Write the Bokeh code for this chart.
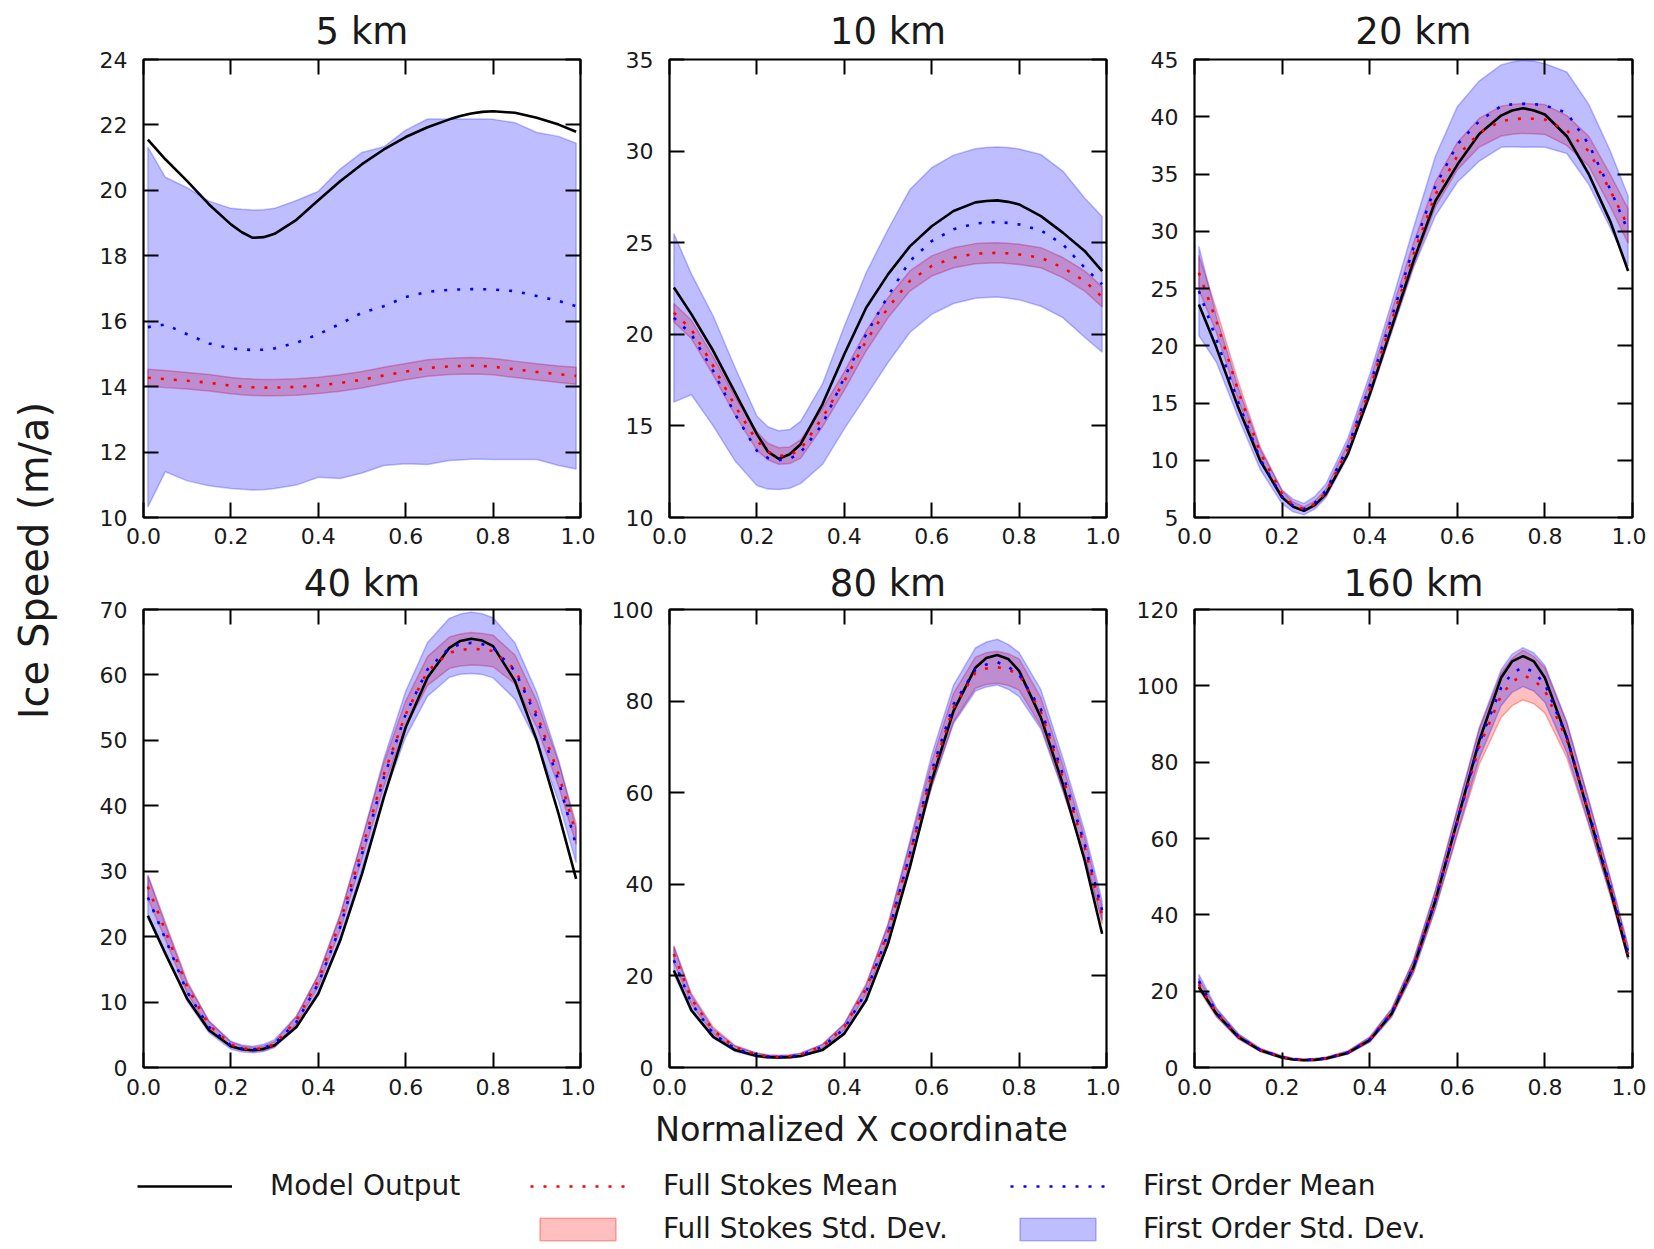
from bokeh.plotting import figure
from bokeh.layouts import row, column
from bokeh.models import (Range1d, FixedTicker, LinearAxis, NumeralTickFormatter,
                          CustomJSTickFormatter, Legend, LegendItem)
from bokeh.embed import file_html
from bokeh.resources import INLINE

FONT = "DejaVu Sans"

# ---------------- data ----------------
x_norm = [0.01, 0.05, 0.10, 0.15, 0.20, 0.225, 0.25, 0.275, 0.30, 0.35, 0.40, 0.45, 0.50,
          0.55, 0.60, 0.65, 0.70, 0.725, 0.75, 0.775, 0.80, 0.85, 0.90, 0.95, 0.99]

titles = ["5 km", "10 km", "20 km", "40 km", "80 km", "160 km"]

model_5 = [21.55, 20.95, 20.28, 19.57, 18.96, 18.72, 18.55, 18.57, 18.67, 19.10, 19.70, 20.28, 20.80,
           21.25, 21.63, 21.93, 22.17, 22.27, 22.35, 22.40, 22.42, 22.37, 22.22, 22.01, 21.79]
fs_mean_5 = [14.27, 14.23, 14.18, 14.12, 14.03, 14.00, 13.98, 13.97, 13.97, 13.99, 14.04, 14.11, 14.21,
             14.34, 14.46, 14.57, 14.62, 14.63, 14.64, 14.63, 14.61, 14.53, 14.45, 14.38, 14.33]
fs_std_5 = [0.26, 0.26, 0.25, 0.25, 0.25, 0.25, 0.25, 0.25, 0.25, 0.25, 0.25, 0.25, 0.25,
            0.25, 0.25, 0.25, 0.25, 0.25, 0.25, 0.25, 0.25, 0.25, 0.25, 0.25, 0.26]
fo_mean_5 = [15.82, 15.90, 15.60, 15.32, 15.17, 15.14, 15.12, 15.13, 15.17, 15.34, 15.60, 15.92, 16.26,
             16.46, 16.74, 16.90, 16.96, 16.97, 16.98, 16.98, 16.97, 16.92, 16.77, 16.62, 16.46]
fo_std_5 = [5.50, 4.50, 4.48, 4.35, 4.28, 4.28, 4.28, 4.28, 4.28, 4.35, 4.37, 4.73, 4.90,
            4.87, 5.10, 5.28, 5.22, 5.21, 5.20, 5.20, 5.20, 5.15, 5.00, 5.03, 4.98]

model_10 = [22.55, 21.10, 19.10, 16.82, 14.55, 13.60, 13.20, 13.45, 14.00, 16.18, 18.91, 21.45, 23.27,
            24.80, 25.90, 26.73, 27.20, 27.28, 27.31, 27.23, 27.09, 26.45, 25.55, 24.55, 23.45]
fs_mean_10 = [21.18, 20.27, 18.27, 16.09, 14.18, 13.60, 13.36, 13.40, 13.73, 15.45, 17.45, 19.64, 21.45,
              22.91, 23.73, 24.18, 24.40, 24.43, 24.45, 24.42, 24.36, 24.18, 23.64, 22.91, 22.04]
fs_std_10 = [0.50, 0.50, 0.50, 0.50, 0.50, 0.45, 0.45, 0.45, 0.50, 0.50, 0.50, 0.55, 0.55,
             0.55, 0.55, 0.55, 0.55, 0.55, 0.55, 0.55, 0.55, 0.55, 0.55, 0.55, 0.55]
fo_mean_10 = [20.90, 20.00, 18.00, 15.64, 13.64, 13.25, 13.13, 13.20, 13.55, 15.09, 17.64, 20.00, 22.09,
              24.00, 25.09, 25.73, 26.05, 26.10, 26.13, 26.08, 26.00, 25.67, 24.91, 23.64, 22.73]
fo_std_10 = [4.60, 3.30, 3.00, 2.55, 1.90, 1.70, 1.60, 1.60, 1.70, 2.20, 2.80, 3.36, 3.63,
             3.90, 4.00, 4.05, 4.08, 4.09, 4.10, 4.11, 4.12, 4.14, 4.00, 3.80, 3.70]

model_20 = [23.60, 19.84, 14.60, 9.95, 6.75, 5.95, 5.58, 6.10, 7.04, 10.53, 15.76, 21.58, 27.40,
            32.64, 35.80, 38.50, 40.10, 40.55, 40.75, 40.55, 40.20, 38.30, 35.00, 30.80, 26.53]
fs_mean_20 = [26.38, 22.16, 16.05, 10.67, 7.04, 6.10, 5.73, 6.20, 7.18, 10.96, 16.20, 22.16, 27.98,
              33.22, 36.56, 38.60, 39.62, 39.78, 39.85, 39.82, 39.76, 38.80, 37.00, 33.50, 30.45]
fs_std_20 = [1.50, 1.00, 0.80, 0.50, 0.30, 0.25, 0.20, 0.25, 0.30, 0.50, 0.70, 0.90, 1.00,
             1.10, 1.20, 1.25, 1.30, 1.30, 1.30, 1.30, 1.30, 1.30, 1.30, 1.40, 1.50]
fo_mean_20 = [24.78, 20.56, 15.04, 10.10, 6.80, 6.05, 5.73, 6.30, 7.33, 11.11, 16.49, 22.45, 28.56,
              33.95, 37.58, 39.62, 40.93, 41.08, 41.13, 41.10, 40.99, 40.35, 37.60, 33.60, 30.02]
fo_std_20 = [3.90, 2.00, 1.30, 0.90, 0.60, 0.55, 0.50, 0.55, 0.60, 0.80, 1.00, 1.30, 1.75,
             2.60, 3.30, 3.50, 3.60, 3.70, 3.80, 3.75, 3.65, 3.56, 3.50, 3.35, 3.05]

model_40 = [23.20, 17.40, 10.50, 5.70, 3.25, 2.80, 2.64, 2.85, 3.40, 6.20, 11.28, 19.40, 29.60,
            41.30, 52.00, 59.60, 64.15, 65.20, 65.53, 65.25, 64.40, 59.07, 50.00, 38.73, 28.82]
fs_mean_40 = [27.65, 20.90, 12.30, 6.45, 3.50, 2.95, 2.74, 2.95, 3.56, 7.20, 13.30, 22.20, 33.40,
              44.80, 54.00, 60.60, 63.40, 63.80, 64.00, 63.90, 63.65, 60.85, 54.00, 44.80, 35.70]
fs_std_40 = [1.80, 1.30, 0.90, 0.60, 0.40, 0.35, 0.30, 0.35, 0.40, 0.60, 0.90, 1.20, 1.50,
             1.80, 2.00, 2.20, 2.40, 2.45, 2.50, 2.45, 2.40, 2.20, 2.00, 1.80, 1.60]
fo_mean_40 = [26.00, 19.67, 11.53, 6.20, 3.40, 2.90, 2.74, 3.00, 3.66, 6.96, 12.80, 21.45, 32.60,
              44.30, 54.00, 60.85, 64.15, 64.70, 64.90, 64.70, 64.15, 60.60, 53.50, 43.80, 33.90]
fo_std_40 = [3.30, 2.20, 1.40, 0.90, 0.60, 0.55, 0.50, 0.55, 0.60, 0.90, 1.30, 1.80, 2.30,
             2.90, 3.50, 4.10, 4.50, 4.60, 4.70, 4.65, 4.60, 4.30, 3.80, 3.20, 2.60]

model_80 = [21.20, 12.50, 6.70, 3.80, 2.50, 2.25, 2.20, 2.25, 2.50, 3.80, 7.40, 14.67, 27.00,
            43.70, 62.60, 77.85, 87.30, 89.40, 90.05, 89.20, 86.60, 76.40, 61.90, 45.20, 29.20]
fs_mean_80 = [24.80, 15.00, 8.10, 4.40, 2.80, 2.45, 2.30, 2.45, 2.80, 4.60, 8.90, 17.20, 29.60,
              46.60, 64.05, 78.60, 86.20, 87.10, 87.40, 86.90, 85.80, 77.60, 63.30, 48.10, 33.20]
fs_std_80 = [1.80, 1.20, 0.70, 0.40, 0.30, 0.30, 0.30, 0.30, 0.30, 0.40, 0.70, 1.10, 1.60,
             2.20, 2.70, 3.10, 3.40, 3.45, 3.50, 3.45, 3.40, 3.10, 2.70, 2.20, 1.80]
fo_mean_80 = [23.40, 14.00, 7.40, 4.10, 2.70, 2.40, 2.30, 2.40, 2.70, 4.50, 8.50, 16.50, 29.20,
              46.60, 64.80, 79.30, 86.90, 88.00, 88.50, 87.50, 85.80, 78.20, 64.05, 48.80, 34.30]
fo_std_80 = [3.00, 1.80, 1.00, 0.60, 0.40, 0.35, 0.30, 0.35, 0.40, 0.60, 1.00, 1.50, 2.10,
             2.80, 3.50, 4.20, 4.70, 4.90, 5.00, 4.90, 4.80, 4.30, 3.60, 2.80, 2.20]

model_160 = [21.10, 14.10, 8.00, 4.50, 2.60, 2.10, 1.90, 2.00, 2.35, 3.80, 7.15, 14.10, 26.30,
             43.75, 64.70, 85.60, 102.10, 106.40, 107.80, 106.40, 102.10, 86.50, 66.40, 46.40, 28.90]
fs_mean_160 = [21.80, 14.30, 8.10, 4.60, 2.70, 2.20, 2.00, 2.10, 2.40, 3.90, 7.30, 14.30, 26.50,
               44.00, 64.30, 84.00, 97.50, 101.00, 102.80, 101.50, 98.80, 85.80, 66.80, 47.00, 29.80]
fs_std_160 = [1.50, 1.00, 0.60, 0.40, 0.30, 0.25, 0.20, 0.25, 0.30, 0.40, 0.60, 1.00, 1.60,
              2.40, 3.40, 4.60, 5.80, 6.20, 6.50, 6.20, 5.90, 4.60, 3.30, 2.20, 1.60]
fo_mean_160 = [22.60, 14.50, 8.20, 4.60, 2.70, 2.20, 2.00, 2.10, 2.40, 3.90, 7.30, 14.30, 26.50,
               44.00, 64.50, 85.00, 99.50, 103.30, 104.90, 103.60, 100.50, 86.50, 67.00, 47.20, 30.20]
fo_std_160 = [1.80, 1.10, 0.70, 0.40, 0.30, 0.25, 0.20, 0.25, 0.30, 0.40, 0.70, 1.10, 1.70,
              2.40, 3.20, 4.00, 4.70, 5.00, 5.10, 5.00, 4.80, 4.00, 3.10, 2.30, 1.80]

y_ranges = [(10, 24), (10, 35), (5, 45), (0, 70), (0, 100), (0, 120)]
y_ticks = [[10, 12, 14, 16, 18, 20, 22, 24],
           [10, 15, 20, 25, 30, 35],
           [5, 10, 15, 20, 25, 30, 35, 40, 45],
           [0, 10, 20, 30, 40, 50, 60, 70],
           [0, 20, 40, 60, 80, 100],
           [0, 20, 40, 60, 80, 100, 120]]
x_ticks = [0.0, 0.2, 0.4, 0.6, 0.8, 1.0]

legend_labels = ["Model Output", "Full Stokes Mean", "Full Stokes Std. Dev.",
                 "First Order Mean", "First Order Std. Dev."]
x_label = "Normalized X coordinate"
y_label = "Ice Speed (m/a)"

panels = [
    (model_5, fs_mean_5, fs_std_5, fo_mean_5, fo_std_5),
    (model_10, fs_mean_10, fs_std_10, fo_mean_10, fo_std_10),
    (model_20, fs_mean_20, fs_std_20, fo_mean_20, fo_std_20),
    (model_40, fs_mean_40, fs_std_40, fo_mean_40, fo_std_40),
    (model_80, fs_mean_80, fs_std_80, fo_mean_80, fo_std_80),
    (model_160, fs_mean_160, fs_std_160, fo_mean_160, fo_std_160),
]

# ---------------- styles ----------------
RED = "#ff0000"
BLUE = "#0000ff"
DOT = "3 10"
TICK_FONT = "22px"
TEXT_COLOR = "#1a1a1a"


def band_xy(mean, std):
    lower = [m - s for m, s in zip(mean, std)]
    upper = [m + s for m, s in zip(mean, std)]
    return x_norm + x_norm[::-1], lower + upper[::-1]


def draw_series(p, data):
    model, fs_mean, fs_std, fo_mean, fo_std = data
    bx, by = band_xy(fs_mean, fs_std)
    r_fs_band = p.patch(bx, by, fill_color=RED, fill_alpha=0.25,
                        line_color=RED, line_alpha=0.3, line_width=1.5)
    bx, by = band_xy(fo_mean, fo_std)
    r_fo_band = p.patch(bx, by, fill_color=BLUE, fill_alpha=0.26,
                        line_color=BLUE, line_alpha=0.25, line_width=1.5)
    r_model = p.line(x_norm, model, line_color="black", line_width=2.6)
    r_fs = p.line(x_norm, fs_mean, line_color=RED, line_width=2.6, line_dash=DOT)
    r_fo = p.line(x_norm, fo_mean, line_color=BLUE, line_width=2.6, line_dash=DOT)
    return r_model, r_fs, r_fs_band, r_fo, r_fo_band


def make_panel(i, width, height, left, right, top, bottom, title_standoff, x_standoff):
    p = figure(width=width, height=height, title=titles[i],
               x_range=Range1d(0, 1), y_range=Range1d(*y_ranges[i]),
               output_backend="svg", toolbar_location=None,
               min_border_left=left, min_border_right=right,
               min_border_top=top, min_border_bottom=bottom)
    p.title.text_font = FONT
    p.title.text_font_size = "37px"
    p.title.text_font_style = "normal"
    p.title.text_color = TEXT_COLOR
    p.title.align = "center"
    p.title.standoff = title_standoff
    p.xgrid.visible = False
    p.ygrid.visible = False
    p.outline_line_color = "black"
    p.outline_line_width = 2.2
    p.outline_line_alpha = 1.0

    xt = FixedTicker(ticks=x_ticks)
    yt = FixedTicker(ticks=y_ticks[i])

    xa = p.xaxis[0]
    xa.ticker = xt
    xa.formatter = NumeralTickFormatter(format="0.0")
    ya = p.yaxis[0]
    ya.ticker = yt
    for ax in (xa, ya):
        ax.axis_line_color = None
        ax.major_tick_in = 15
        ax.major_tick_out = 0
        ax.major_tick_line_width = 2
        ax.major_tick_line_color = "black"
        ax.minor_tick_line_color = None
        ax.major_label_text_font = FONT
        ax.major_label_text_font_size = TICK_FONT
        ax.major_label_text_color = TEXT_COLOR
    xa.major_label_standoff = x_standoff
    ya.major_label_standoff = 16

    # mirrored ticks on top and right
    blank = CustomJSTickFormatter(code="return ''")
    for side, tk in (("above", xt), ("right", yt)):
        ax = LinearAxis(ticker=tk, formatter=blank, axis_line_color=None,
                        major_tick_in=15, major_tick_out=0, major_tick_line_width=2,
                        major_tick_line_color="black", minor_tick_line_color=None,
                        major_label_standoff=0, major_label_text_font_size="1px")
        p.add_layout(ax, side)

    draw_series(p, panels[i])
    return p


# ---------------- layout ----------------
TOP_H, BOT_H = 554, 551
cols = [(527, 75, 15), (525, 74, 14), (526, 74, 14)]

top_figs = [make_panel(i, w, TOP_H, l, r, 58, 37, 14, 10) for i, (w, l, r) in enumerate(cols)]
bot_figs = [make_panel(i + 3, w, BOT_H, l, r, 54, 38, 10, 11) for i, (w, l, r) in enumerate(cols)]

# shared y label
ylab = figure(width=68, height=TOP_H + BOT_H, title=y_label, title_location="left",
              output_backend="svg", toolbar_location=None,
              x_axis_location=None, y_axis_location=None,
              min_border_left=58, min_border_right=0, min_border_top=15, min_border_bottom=0)
ylab.outline_line_color = None
ylab.xgrid.visible = False
ylab.ygrid.visible = False
ylab.title.text_font = FONT
ylab.title.text_font_size = "40px"
ylab.title.text_font_style = "normal"
ylab.title.text_color = TEXT_COLOR
ylab.title.align = "center"
ylab.title.standoff = 4

# bottom strip: x label + legend
leg = figure(width=1646, height=142, title=x_label,
             x_range=Range1d(5, 6), y_range=Range1d(0, 1),
             output_backend="svg", toolbar_location=None,
             x_axis_location=None, y_axis_location=None,
             min_border_left=76, min_border_right=0, min_border_top=45, min_border_bottom=0)
leg.outline_line_color = None
leg.xgrid.visible = False
leg.ygrid.visible = False
leg.title.text_font = FONT
leg.title.text_font_size = "33.5px"
leg.title.text_font_style = "normal"
leg.title.text_color = TEXT_COLOR
leg.title.align = "center"
leg.title.standoff = 3

r_model, r_fs, r_fs_band, r_fo, r_fo_band = draw_series(leg, panels[0])


def add_legend(items, loc):
    lg = Legend(items=items, location=loc, orientation="vertical",
                glyph_width=95, glyph_height=28, label_standoff=38, spacing=10,
                padding=0, margin=0, border_line_color=None, background_fill_alpha=0,
                label_text_font=FONT, label_text_font_size="28px",
                label_text_color=TEXT_COLOR)
    leg.add_layout(lg)


add_legend([LegendItem(label=legend_labels[0], renderers=[r_model])], (61, 45))
add_legend([LegendItem(label=legend_labels[1], renderers=[r_fs]),
            LegendItem(label=legend_labels[2], renderers=[r_fs_band])], (454, 2))
add_legend([LegendItem(label=legend_labels[3], renderers=[r_fo]),
            LegendItem(label=legend_labels[4], renderers=[r_fo_band])], (934, 2))

grid = column(row(*top_figs, spacing=0), row(*bot_figs, spacing=0), spacing=0)
page = column(row(ylab, grid, spacing=0), leg, spacing=0)

open("out.html", "w").write(file_html(page, INLINE))
